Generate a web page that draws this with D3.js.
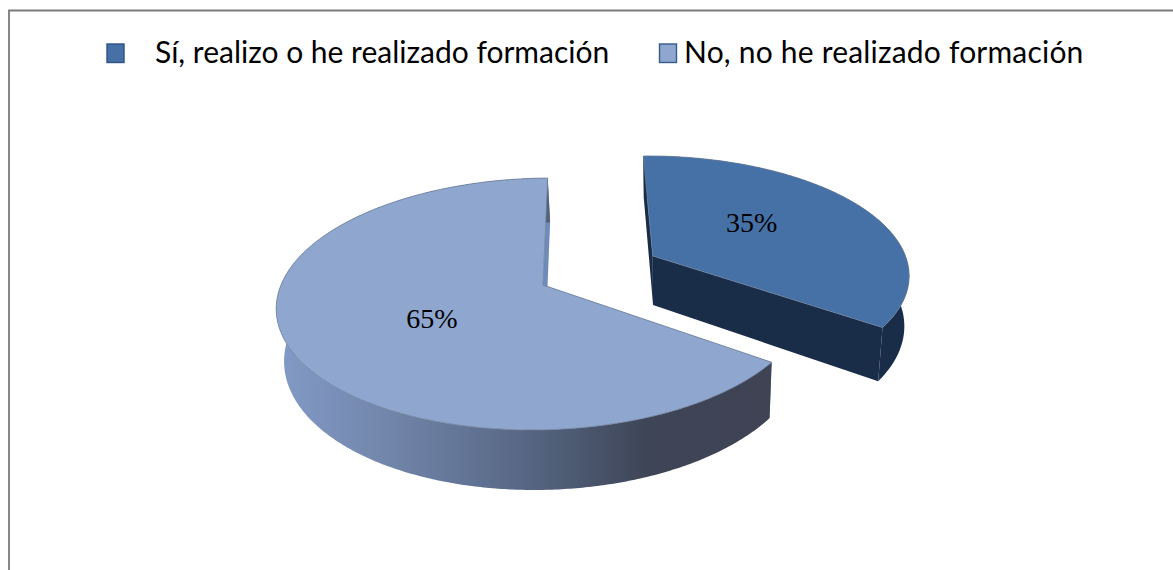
<!DOCTYPE html>
<html>
<head>
<meta charset="utf-8">
<script src="https://cdnjs.cloudflare.com/ajax/libs/d3/7.8.5/d3.min.js"></script>
<style>html,body{margin:0;padding:0;background:#fff;overflow:hidden}svg{display:block}</style>
</head>
<body>
<div id="chart"></div>
<script>
// Data
const categories = ["Sí, realizo o he realizado formación", "No, no he realizado formación"];
const values = [35, 65];
const labels = ["35%", "65%"];
const topColors = ["#4571A7", "#8FA7CF"];
const swatchStrokes = ["#2E5283", "#355A8C"];

// Layout
const W = 1173, H = 570;
const apex = {x: 543, y: 285};
const RX = 262, RY = 123.1, K = 0.1507;      // projected ellipse + perspective
const SKEW = 10;
const DEPTH = 51, BOTTOM_SCALE = 0.98, BOTTOM_SHIFT = 2.5;
const START_DEG = -1;
const EXPLODE = [{u: 0.425, v: -0.245}, {u: 0, v: 0}];
const LABEL_R = [0.515, 0.476], LABEL_SHIFT_DEG = [-8, -5.5];

const svg = d3.select("#chart").append("svg").attr("width", W).attr("height", H);
svg.append("rect").attr("width", W).attr("height", H).attr("fill", "#fff");

// Frame (open on right and bottom, as cropped)
svg.append("path").attr("d", d3.line()([[9, H], [9, 10.5], [W, 10.5]]))
  .attr("fill", "none").attr("stroke", "#7b7b7b").attr("stroke-width", 1.8);

// Projection of plane coordinates (u right, v towards viewer)
const topP = (u, v) => {
  const d = 1 - K * v;
  return [apex.x + (RX * u - SKEW * v) / d, apex.y + RY * v / d];
};
const botP = (u, v) => {
  const d = 1 - K * v;
  return [apex.x + BOTTOM_SHIFT + BOTTOM_SCALE * (RX * u - SKEW * v) / d, apex.y + (RY * v + DEPTH) / d];
};
const pie = d3.pie().sort(null).value(d => d)
  .startAngle(START_DEG * Math.PI / 180)
  .endAngle((START_DEG + 360) * Math.PI / 180);
const arcs = pie(values);
const line = d3.line();

const arcPts = (a, off, proj) => {
  const n = Math.ceil((a.endAngle - a.startAngle) / 0.01);
  return d3.range(n + 1).map(i => {
    const t = a.startAngle + (a.endAngle - a.startAngle) * i / n;
    return proj(off.u + Math.sin(t), off.v - Math.cos(t));
  });
};

// Wall shading
const defs = svg.append("defs");
const gx = d3.scaleLinear().domain([0, 1]).range([278, 769]);
const grad = defs.append("linearGradient").attr("id", "wallGrad")
  .attr("gradientUnits", "userSpaceOnUse")
  .attr("x1", gx(0)).attr("x2", gx(1)).attr("y1", 0).attr("y2", 0);
[[0, "#829AC6"], [0.2, "#7488AE"], [0.45, "#5C6D8C"], [0.6, "#4D5A72"], [0.75, "#3E4557"], [1, "#3F4354"]]
  .forEach(([o, c]) => grad.append("stop").attr("offset", o).attr("stop-color", c));

const wallFill = ["#1A2D48", "url(#wallGrad)"];
const cutFill = ["#1A2D48", "#6F8BBA"];

arcs.slice().reverse().forEach(a => {
  const i = a.index, off = EXPLODE[i];
  const g = svg.append("g");
  const topA = topP(off.u, off.v), botA = botP(off.u, off.v);
  const topArc = arcPts(a, off, topP), botArc = arcPts(a, off, botP);

  // cut faces
  [[topArc[0], botArc[0]], [topArc[topArc.length - 1], botArc[botArc.length - 1]]].forEach(([t, b]) => {
    g.append("path").attr("d", line([topA, t, b, botA]) + "Z").attr("fill", cutFill[i]);
  });
  // outer wall
  g.append("path").attr("d", line(topArc.concat(botArc.slice().reverse())) + "Z")
    .attr("fill", wallFill[i]);
  // top face
  g.append("path").attr("d", line([topA].concat(topArc)) + "Z")
    .attr("fill", topColors[i]).attr("stroke", "#6C7D98").attr("stroke-width", 0.8);

  // label
  const t = (a.startAngle + a.endAngle) / 2 + LABEL_SHIFT_DEG[i] * Math.PI / 180;
  const p = topP(off.u + LABEL_R[i] * Math.sin(t), off.v - LABEL_R[i] * Math.cos(t));
  g.append("text").attr("x", p[0]).attr("y", p[1]).attr("dy", "0.33em")
    .attr("text-anchor", "middle")
    .attr("font-family", "'Liberation Serif', serif").attr("font-size", 28)
    .attr("fill", "#000").text(labels[i]);
});

// Legend
const legendSwatchX = [107, 659.5], legendTextX = [155, 684], legendSpacing = [0, 0.2];
categories.forEach((c, i) => {
  svg.append("rect").attr("x", legendSwatchX[i]).attr("y", 44).attr("width", 17).attr("height", 18.5)
    .attr("fill", topColors[i]).attr("stroke", swatchStrokes[i]).attr("stroke-width", 1.4);
  svg.append("text").attr("x", legendTextX[i]).attr("y", 63)
    .attr("font-family", "Lato, 'Open Sans', sans-serif").attr("font-size", 30)
    .attr("letter-spacing", legendSpacing[i])
    .attr("fill", "#000").text(c);
});
</script>
</body>
</html>
